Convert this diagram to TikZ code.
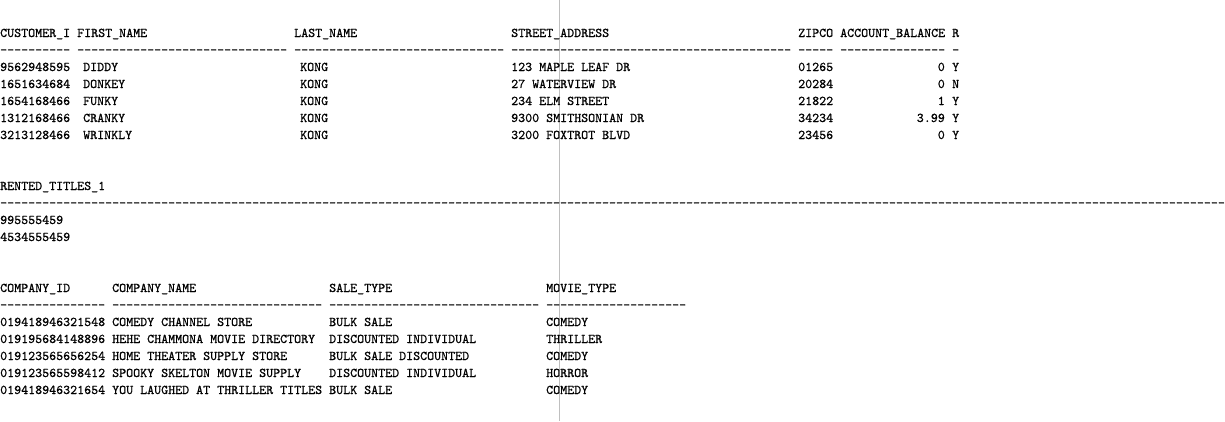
\documentclass[tikz,border=0pt]{standalone}
\usepackage{fontspec}
\usepackage{tikz}
\newfontfamily\dumpfont{lmmono10-regular}[Extension=.otf,Ligatures=TeXOff,FakeBold=0.6]
\newcommand{\dashes}[1]{\foreach \k in {1,...,#1}{-}}
\tikzset{
   cell/.style={anchor=base west,inner sep=0pt,font=\dumpfont\fontsize{13.33}{16}\selectfont},
   numcell/.style={cell,anchor=base east},
}

\begin{document}
\begin{tikzpicture}[x=1pt,y=-1pt]
   \useasboundingbox (0,0) rectangle (1225,421);
   \coordinate (rtop) at (559,0);
   \coordinate (rbot) at (559,421);
   \draw[black!25] (rtop) -- (rbot);

   % customers
   \node[cell] (hcid) at (0,37) {CUSTOMER\_I};
   \node[cell] (hfirst) at (77,37) {FIRST\_NAME};
   \node[cell] (hlast) at (294,37) {LAST\_NAME};
   \node[cell] (hstreet) at (511,37) {STREET\_ADDRESS};
   \node[cell] (hzip) at (798,37) {ZIPCO};
   \node[cell] (hbal) at (840,37) {ACCOUNT\_BALANCE};
   \node[cell] (hren) at (952,37) {R};

   \node[cell] (dcid) at (0,54) {\dashes{10}};
   \node[cell] (dfirst) at (77,54) {\dashes{30}};
   \node[cell] (dlast) at (294,54) {\dashes{30}};
   \node[cell] (dstreet) at (511,54) {\dashes{40}};
   \node[cell] (dzip) at (798,54) {\dashes{5}};
   \node[cell] (dbal) at (840,54) {\dashes{15}};
   \node[cell] (dren) at (952,54) {\dashes{1}};

   \foreach \cid/\fname/\street/\zip/\bal/\ren [count=\i from 0] in {
      9562948595/DIDDY/123 MAPLE LEAF DR/01265/0/Y,
      1651634684/DONKEY/27 WATERVIEW DR/20284/0/N,
      1654168466/FUNKY/234 ELM STREET/21822/1/Y,
      1312168466/CRANKY/9300 SMITHSONIAN DR/34234/3.99/Y,
      3213128466/WRINKLY/3200 FOXTROT BLVD/23456/0/Y}{
      \node[cell] (cid\i) at (0,{71+17*\i}) {\cid};
      \node[cell] (first\i) at (83,{71+17*\i}) {\fname};
      \node[cell] (last\i) at (300,{71+17*\i}) {KONG};
      \node[cell] (street\i) at (511,{71+17*\i}) {\street};
      \node[cell] (zip\i) at (798,{71+17*\i}) {\zip};
      \node[numcell] (bal\i) at (945,{71+17*\i}) {\bal};
      \node[cell] (ren\i) at (952,{71+17*\i}) {\ren};
   }

   % rented titles
   \node[cell] (hrent) at (0,190) {RENTED\_TITLES\_1};
   \node[cell] (drent) at (0,207) {\dashes{175}};
   \node[cell] (rent0) at (0,224) {995555459};
   \node[cell] (rent1) at (0,241) {4534555459};

   % companies
   \node[cell] (hcomp) at (0,292) {COMPANY\_ID};
   \node[cell] (hname) at (112,292) {COMPANY\_NAME};
   \node[cell] (hsale) at (329,292) {SALE\_TYPE};
   \node[cell] (hmovie) at (546,292) {MOVIE\_TYPE};

   \node[cell] (dcomp) at (0,309) {\dashes{15}};
   \node[cell] (dname) at (112,309) {\dashes{30}};
   \node[cell] (dsale) at (329,309) {\dashes{30}};
   \node[cell] (dmovie) at (546,309) {\dashes{20}};

   \foreach \comp/\cname/\sale/\movie [count=\i from 0] in {
      019418946321548/COMEDY CHANNEL STORE/BULK SALE/COMEDY,
      019195684148896/HEHE CHAMMONA MOVIE DIRECTORY/DISCOUNTED INDIVIDUAL/THRILLER,
      019123565656254/HOME THEATER SUPPLY STORE/BULK SALE DISCOUNTED/COMEDY,
      019123565598412/SPOOKY SKELTON MOVIE SUPPLY/DISCOUNTED INDIVIDUAL/HORROR,
      019418946321654/YOU LAUGHED AT THRILLER TITLES/BULK SALE/COMEDY}{
      \node[cell] (comp\i) at (0,{326+17*\i}) {\comp};
      \node[cell] (name\i) at (112,{326+17*\i}) {\cname};
      \node[cell] (sale\i) at (329,{326+17*\i}) {\sale};
      \node[cell] (movie\i) at (546,{326+17*\i}) {\movie};
   }
\end{tikzpicture}
\end{document}
